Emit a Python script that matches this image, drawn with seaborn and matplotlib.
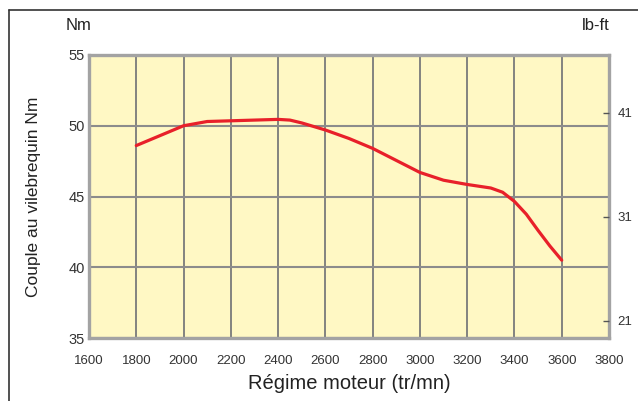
import matplotlib
matplotlib.use("Agg")
import matplotlib.pyplot as plt
import seaborn as sns
import pandas as pd
from matplotlib.lines import Line2D

sns.set_theme(style="white")
plt.rcParams['font.family'] = ['Liberation Sans', 'DejaVu Sans']

# Data
rpm = [1800, 1900, 2000, 2100, 2200, 2300, 2400, 2450, 2500, 2600, 2700, 2800,
       2900, 3000, 3100, 3200, 3300, 3350, 3400, 3450, 3500, 3550, 3600]
torque_nm = [48.6, 49.3, 50.0, 50.3, 50.35, 50.4, 50.45, 50.4, 50.2, 49.7, 49.1, 48.4,
             47.55, 46.7, 46.15, 45.85, 45.6, 45.3, 44.65, 43.75, 42.6, 41.5, 40.5]
x_ticks = [1600, 1800, 2000, 2200, 2400, 2600, 2800, 3000, 3200, 3400, 3600, 3800]
y_ticks = [35, 40, 45, 50, 55]
lbft_ticks = [21, 31, 41]
lbft_lim = (19.35, 46.55)

df = pd.DataFrame({"rpm": rpm, "torque": torque_nm})

fig = plt.figure(figsize=(6.38, 4.01), dpi=100)
ax = fig.add_axes([89 / 638, 1 - 338 / 401, (609 - 89) / 638, (338 - 55) / 401])
ax.set_facecolor("#fff8c4")

sns.lineplot(data=df, x="rpm", y="torque", ax=ax, color="#e8202a", linewidth=2.3, zorder=5)

ax.set_xlim(1600, 3800)
ax.set_ylim(35, 55)
ax.set_xticks(x_ticks)
ax.set_yticks(y_ticks)
ax.grid(True, axis="x", color="#7a7a7a", linewidth=1.3)
ax.grid(True, axis="y", color="#8c8c8c", linewidth=1.5)
ax.set_axisbelow(True)
for s in ax.spines.values():
    s.set_visible(True)
    s.set_color("#a3a3a3")
    s.set_linewidth(2.4)
ax.tick_params(axis="x", length=0, pad=12, labelsize=9.5, labelcolor="#333333")
ax.tick_params(axis="y", length=0, pad=3, labelsize=10.5, labelcolor="#333333")
ax.set_xlabel("Régime moteur (tr/mn)", fontsize=14.5, color="#222222", labelpad=5)
ax.set_ylabel("Couple au vilebrequin Nm", fontsize=12.5, color="#222222", labelpad=20)

ax2 = ax.twinx()
ax2.set_ylim(*lbft_lim)
ax2.set_yticks(lbft_ticks)
ax2.tick_params(axis="y", direction="in", length=4, width=1, color="#555555",
                pad=6, labelsize=9.5, labelcolor="#333333")
for s in ax2.spines.values():
    s.set_visible(False)
ax2.grid(False)

fig.text(66 / 638, 1 - 26 / 401, "Nm", fontsize=12, color="#222222", va="center", ha="left")
fig.text(610 / 638, 1 - 26 / 401, "lb-ft", fontsize=12, color="#222222", va="center", ha="right")

# Outer frame lines (top and left)
fig.add_artist(Line2D([9 / 638, 1.0], [1 - 10 / 401, 1 - 10 / 401], transform=fig.transFigure,
                      color="#333333", linewidth=1.2))
fig.add_artist(Line2D([9 / 638, 9 / 638], [0.0, 1 - 10 / 401], transform=fig.transFigure,
                      color="#333333", linewidth=1.2))

fig.savefig("out.png", dpi=100)
